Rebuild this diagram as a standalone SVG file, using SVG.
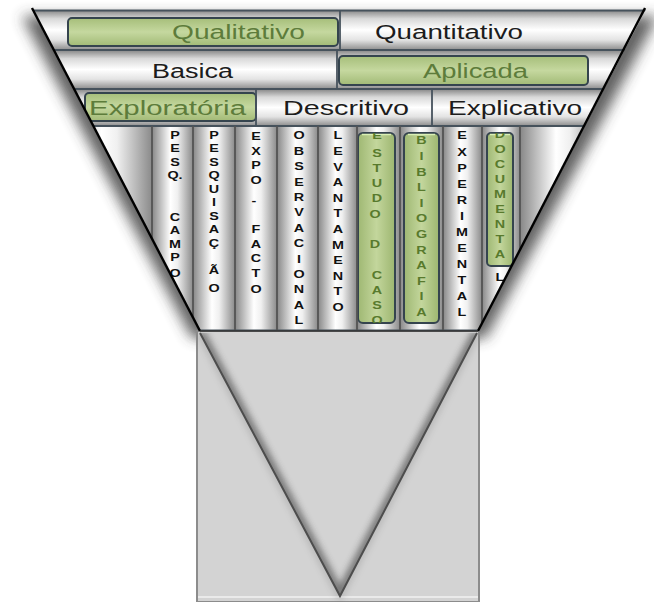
<svg xmlns="http://www.w3.org/2000/svg" width="654" height="602" viewBox="0 0 654 602">
<style>
.lbl{font-family:"Liberation Sans",Arial,sans-serif;font-size:20px;fill:#1c1c1c}
.glbl{fill:#5d7c3b}
.vt{font-family:"Liberation Sans",Arial,sans-serif;font-size:11.5px;font-weight:bold;fill:#111;text-anchor:middle}
.vg{fill:#587a2d}
.cell{fill:url(#rowGrad)}
.col{fill:url(#colGrad)}
.gbox{fill:url(#greenV);stroke:#35444e;stroke-width:2}
.gcol{fill:url(#greenH);stroke:#35444e;stroke-width:2}
.hdiv{stroke:#46525c;stroke-width:1.8;fill:none}
.vdiv{stroke:#545454;stroke-width:1.8;fill:none}
.edge{stroke:#000;stroke-width:2.4;fill:none}
</style>
<defs>
  <linearGradient id="rowGrad" x1="0" y1="0" x2="0" y2="1">
    <stop offset="0" stop-color="#858585"/>
    <stop offset="0.22" stop-color="#d9d9d9"/>
    <stop offset="0.5" stop-color="#ffffff"/>
    <stop offset="0.75" stop-color="#e3e3e3"/>
    <stop offset="1" stop-color="#8c8c8c"/>
  </linearGradient>
  <linearGradient id="colGrad" x1="0" y1="0" x2="1" y2="0">
    <stop offset="0" stop-color="#878787"/>
    <stop offset="0.45" stop-color="#ffffff"/>
    <stop offset="0.62" stop-color="#f0f0f0"/>
    <stop offset="1" stop-color="#8a8a8a"/>
  </linearGradient>
  <linearGradient id="greenV" x1="0" y1="0" x2="0" y2="1">
    <stop offset="0" stop-color="#a6be7a"/>
    <stop offset="0.5" stop-color="#c5d89f"/>
    <stop offset="1" stop-color="#a2ba76"/>
  </linearGradient>
  <linearGradient id="greenH" x1="0" y1="0" x2="1" y2="0">
    <stop offset="0" stop-color="#9fb873"/>
    <stop offset="0.5" stop-color="#c3d69c"/>
    <stop offset="1" stop-color="#9db670"/>
  </linearGradient>
  <filter id="soft" x="-20%" y="-20%" width="140%" height="140%">
    <feGaussianBlur stdDeviation="7"/>
  </filter>
  <filter id="soft3" x="-20%" y="-20%" width="140%" height="140%">
    <feGaussianBlur stdDeviation="3.5"/>
  </filter>
  <clipPath id="funnel"><polygon points="32,9 646,9 478,331 200,331"/></clipPath>
  <clipPath id="cEstudo"><rect x="358" y="133" width="37" height="190" rx="5"/></clipPath>
  <clipPath id="cBiblio"><rect x="404" y="133" width="35" height="190" rx="5"/></clipPath>
  <clipPath id="cDoc"><rect x="487" y="133" width="26" height="133" rx="4"/></clipPath>
  <clipPath id="cV"><polygon points="200,333 340,596 477,333"/></clipPath>
</defs>

<rect width="654" height="602" fill="#ffffff"/>

<!-- soft drop shadow around the funnel -->
<polygon points="22,16 658,16 486,338 192,338" fill="#3a3a3a" opacity="0.8" filter="url(#soft)"/>

<!-- lower box with the inner V -->
<g id="base">
  <rect x="197" y="331" width="282" height="271" fill="#d3d3d3" stroke="#8c8c8c" stroke-width="2"/>
  <line x1="198" y1="597" x2="478" y2="597" stroke="#f2f2f2" stroke-width="1.5"/>
  <g clip-path="url(#cV)">
    <polyline points="200,333 340,596 477,333" fill="none" stroke="#3c3c3c" stroke-width="10" opacity="0.55" filter="url(#soft3)"/>
  </g>
  <polyline points="200,333 340,596 477,333" fill="none" stroke="#555" stroke-width="6" opacity="0.25" filter="url(#soft3)"/>
  <polyline points="200,333 340,596 477,333" fill="none" stroke="#4d4d4d" stroke-width="2"/>
</g>

<g clip-path="url(#funnel)">
  <!-- row 1 -->
  <g id="row-abordagem">
    <rect class="cell" x="20" y="10" width="320" height="40"/>
    <rect class="cell" x="340" y="10" width="320" height="40"/>
    <g id="qualitativo">
      <rect class="gbox" x="68" y="18" width="270" height="28" rx="4"/>
      <text class="lbl glbl" x="172" y="39" textLength="133" lengthAdjust="spacingAndGlyphs">Qualitativo</text>
    </g>
    <g id="quantitativo">
      <text class="lbl" x="375" y="39" textLength="148" lengthAdjust="spacingAndGlyphs">Quantitativo</text>
    </g>
  </g>
  <!-- row 2 -->
  <g id="row-natureza">
    <rect class="cell" x="0" y="50" width="337" height="39"/>
    <rect class="cell" x="337" y="50" width="320" height="39"/>
    <g id="basica">
      <text class="lbl" x="152" y="78" textLength="81" lengthAdjust="spacingAndGlyphs">Basica</text>
    </g>
    <g id="aplicada">
      <rect class="gbox" x="339" y="56" width="249" height="29" rx="4"/>
      <text class="lbl glbl" x="423" y="78" textLength="105" lengthAdjust="spacingAndGlyphs">Aplicada</text>
    </g>
  </g>
  <!-- row 3 -->
  <g id="row-objetivos">
    <rect class="cell" x="0" y="89" width="256" height="37"/>
    <rect class="cell" x="256" y="89" width="176" height="37"/>
    <rect class="cell" x="432" y="89" width="230" height="37"/>
    <g id="exploratoria">
      <rect class="gbox" x="85" y="93" width="171" height="28" rx="4"/>
      <text class="lbl glbl" x="89" y="115" textLength="157" lengthAdjust="spacingAndGlyphs">Exploratória</text>
    </g>
    <g id="descritivo">
      <text class="lbl" x="283" y="115" textLength="126" lengthAdjust="spacingAndGlyphs">Descritivo</text>
    </g>
    <g id="explicativo">
      <text class="lbl" x="448" y="115" textLength="134" lengthAdjust="spacingAndGlyphs">Explicativo</text>
    </g>
  </g>

  <!-- row 4: procedure columns -->
  <g id="row-procedimentos">
    <rect class="col" x="60" y="126" width="92" height="205"/>
    <rect class="col" x="152" y="126" width="41" height="205"/>
    <rect class="col" x="193" y="126" width="42" height="205"/>
    <rect class="col" x="235" y="126" width="42" height="205"/>
    <rect class="col" x="277" y="126" width="41" height="205"/>
    <rect class="col" x="318" y="126" width="39" height="205"/>
    <rect class="col" x="357" y="126" width="43" height="205"/>
    <rect class="col" x="400" y="126" width="43" height="205"/>
    <rect class="col" x="443" y="126" width="39" height="205"/>
    <rect class="col" x="482" y="126" width="38" height="205"/>
    <rect class="col" x="520" y="126" width="80" height="205"/>

    <g id="pesq-campo">
      <text class="vt" transform="translate(175 0) scale(1.25 1)">
        <tspan x="0" y="139">P</tspan><tspan x="0" y="152.5">E</tspan><tspan x="0" y="166">S</tspan><tspan x="1.6" y="179.5">Q.</tspan>
        <tspan x="0" y="221">C</tspan><tspan x="0" y="234.5">A</tspan><tspan x="0" y="248">M</tspan><tspan x="0" y="261.5">P</tspan><tspan x="0" y="277">O</tspan>
      </text>
    </g>
    <g id="pesquisacao">
      <text class="vt" transform="translate(214 0) scale(1.25 1)">
        <tspan x="0" y="139">P</tspan><tspan x="0" y="152.5">E</tspan><tspan x="0" y="166">S</tspan><tspan x="0" y="179.5">Q</tspan><tspan x="0" y="193">U</tspan><tspan x="0" y="206.5">I</tspan><tspan x="0" y="220">S</tspan><tspan x="0" y="233.5">A</tspan><tspan x="0" y="247">Ç</tspan><tspan x="0" y="274">Ã</tspan><tspan x="0" y="292">O</tspan>
      </text>
    </g>
    <g id="expo-facto">
      <text class="vt" transform="translate(256 0) scale(1.25 1)">
        <tspan x="0" y="140">E</tspan><tspan x="0" y="155">X</tspan><tspan x="0" y="169.5">P</tspan><tspan x="0" y="184.5">O</tspan><tspan x="0" y="204">-</tspan>
        <tspan x="0" y="233">F</tspan><tspan x="0" y="248">A</tspan><tspan x="0" y="262">C</tspan><tspan x="0" y="277">T</tspan><tspan x="0" y="293">O</tspan>
      </text>
    </g>
    <g id="observacional">
      <text class="vt" transform="translate(299 0) scale(1.25 1)">
        <tspan x="0" y="139.5">O</tspan><tspan x="0" y="154.9">B</tspan><tspan x="0" y="170.3">S</tspan><tspan x="0" y="185.7">E</tspan><tspan x="0" y="201.1">R</tspan><tspan x="0" y="216.5">V</tspan><tspan x="0" y="231.9">A</tspan><tspan x="0" y="247.3">C</tspan><tspan x="0" y="262.7">I</tspan><tspan x="0" y="278.1">O</tspan><tspan x="0" y="293.5">N</tspan><tspan x="0" y="308.9">A</tspan><tspan x="0" y="324.3">L</tspan>
      </text>
    </g>
    <g id="levantamento">
      <text class="vt" transform="translate(338 0) scale(1.25 1)">
        <tspan x="0" y="139.5">L</tspan><tspan x="0" y="155.1">E</tspan><tspan x="0" y="170.7">V</tspan><tspan x="0" y="186.3">A</tspan><tspan x="0" y="201.9">N</tspan><tspan x="0" y="217.5">T</tspan><tspan x="0" y="233.1">A</tspan><tspan x="0" y="248.7">M</tspan><tspan x="0" y="264.3">E</tspan><tspan x="0" y="279.9">N</tspan><tspan x="0" y="295.5">T</tspan><tspan x="0" y="311.1">O</tspan>
      </text>
    </g>
    <g id="estudo-de-caso">
      <rect class="gcol" x="358" y="133" width="37" height="190" rx="5"/>
      <line x1="362" y1="134.5" x2="391" y2="134.5" stroke="#d9f0b4" stroke-width="1.5"/>
      <g clip-path="url(#cEstudo)">
        <text class="vt vg" transform="translate(377 0) scale(1.25 1)">
          <tspan x="0" y="139">E</tspan><tspan x="0" y="156.8">S</tspan><tspan x="0" y="172">T</tspan><tspan x="0" y="187.3">U</tspan><tspan x="0" y="202.5">D</tspan><tspan x="0" y="217.8">O</tspan>
          <tspan x="0" y="248.3">D</tspan>
          <tspan x="0" y="278.8">C</tspan><tspan x="0" y="294">A</tspan><tspan x="0" y="309.3">S</tspan><tspan x="0" y="324.5">O</tspan>
        </text>
      </g>
    </g>
    <g id="bibliografia">
      <rect class="gcol" x="404" y="133" width="35" height="190" rx="5"/>
      <line x1="408" y1="134.5" x2="435" y2="134.5" stroke="#d9f0b4" stroke-width="1.5"/>
      <g clip-path="url(#cBiblio)">
        <text class="vt vg" transform="translate(421.5 0) scale(1.25 1)">
          <tspan x="0" y="144.5">B</tspan><tspan x="0" y="160.1">I</tspan><tspan x="0" y="175.7">B</tspan><tspan x="0" y="191.3">L</tspan><tspan x="0" y="206.9">I</tspan><tspan x="0" y="222.5">O</tspan><tspan x="0" y="238.1">G</tspan><tspan x="0" y="253.7">R</tspan><tspan x="0" y="269.3">A</tspan><tspan x="0" y="284.9">F</tspan><tspan x="0" y="300.5">I</tspan><tspan x="0" y="316.1">A</tspan>
        </text>
      </g>
    </g>
    <g id="experimental">
      <text class="vt" transform="translate(462 0) scale(1.25 1)">
        <tspan x="0" y="139.5">E</tspan><tspan x="0" y="155.6">X</tspan><tspan x="0" y="171.6">P</tspan><tspan x="0" y="187.7">E</tspan><tspan x="0" y="203.7">R</tspan><tspan x="0" y="219.8">I</tspan><tspan x="0" y="235.9">M</tspan><tspan x="0" y="251.9">E</tspan><tspan x="0" y="268">N</tspan><tspan x="0" y="284">T</tspan><tspan x="0" y="300.1">A</tspan><tspan x="0" y="316.2">L</tspan>
      </text>
    </g>
    <g id="documental">
      <rect class="gcol" x="487" y="133" width="26" height="133" rx="4"/>
      <line x1="490" y1="134.5" x2="510" y2="134.5" stroke="#d9f0b4" stroke-width="1.5"/>
      <g clip-path="url(#cDoc)">
        <text class="vt vg" transform="translate(500 0) scale(1.25 1)">
          <tspan x="0" y="138">D</tspan><tspan x="0" y="153.5">O</tspan><tspan x="0" y="168.5">C</tspan><tspan x="0" y="183.5">U</tspan><tspan x="0" y="198.5">M</tspan><tspan x="0" y="213.5">E</tspan><tspan x="0" y="228.5">N</tspan><tspan x="0" y="243.5">T</tspan><tspan x="0" y="258.5">A</tspan>
        </text>
      </g>
      <text class="vt" transform="translate(500 0) scale(1.25 1)"><tspan x="0" y="281">L</tspan></text>
    </g>
  </g>

  <!-- cell borders -->
  <g id="grid">
    <path class="hdiv" d="M0 10.5H654M0 50H654M0 89H654M0 126H654M0 330.5H654"/>
    <path class="hdiv" d="M340 10V50M337 50V89M256 89V126M432 89V126"/>
    <path class="vdiv" d="M152 126V330M193 126V330M235 126V330M277 126V330M318 126V330M357 126V330M400 126V330M443 126V330M482 126V330M520 126V330"/>
  </g>
</g>

<!-- funnel outline -->
<g id="connectors">
  <line class="edge" x1="32" y1="8" x2="200" y2="331"/>
  <line class="edge" x1="645" y1="8" x2="478" y2="331"/>
  <line x1="200" y1="331" x2="478" y2="331" stroke="#333" stroke-width="1.5"/>
</g>
</svg>
